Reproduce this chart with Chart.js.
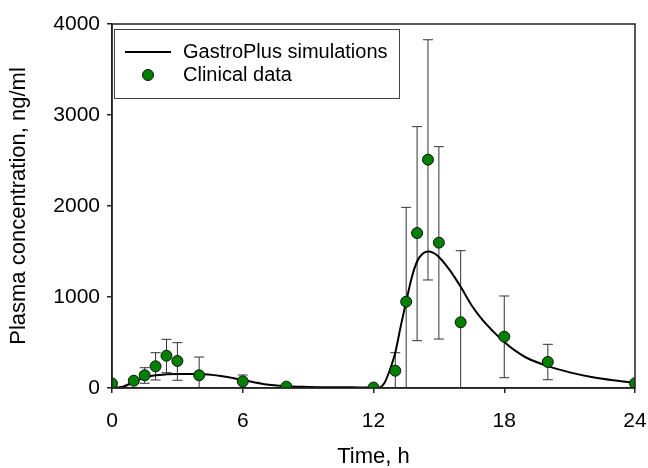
<!DOCTYPE html>
<html>
<head>
<meta charset="utf-8">
<script src="https://cdn.jsdelivr.net/npm/chart.js@4.4.1/dist/chart.umd.min.js"></script>
<style>
  html, body { margin: 0; padding: 0; background: #fff; }
  #wrap { width: 648px; height: 468px; }
</style>
</head>
<body>
<div id="wrap"><canvas id="pkChart"></canvas></div>
<script>
// simulated profile (GastroPlus)
const simTime = [0, 0.5, 1, 1.5, 2, 2.5, 3, 4, 5, 6, 7, 8, 9, 10, 11, 12, 12.25, 12.5, 12.75, 13, 13.25, 13.5, 13.75, 14, 14.25, 14.5, 14.75, 15, 15.5, 16, 16.5, 17, 17.5, 18, 18.5, 19, 20, 21, 22, 23, 24];
const simConc = [0, 15, 65, 115, 140, 150, 154, 154, 132, 88, 42, 20, 12, 9, 7, 5, 4, 55, 198, 390, 680, 950, 1210, 1390, 1475, 1500, 1485, 1440, 1295, 1112, 910, 748, 620, 505, 410, 335, 240, 172, 122, 86, 58];

// clinical observations, mean with error bar ends
const obsTime  = [0, 1, 1.5, 2, 2.5, 3, 4, 6, 8, 12, 13, 13.5, 14, 14.5, 15, 16, 18, 20, 24];
const obsMean  = [50, 80, 140, 238, 355, 297, 140, 73, 15, 5, 190, 948, 1703, 2509, 1597, 722, 564, 286, 52];
const obsUpper = [null, null, 223, 388, 535, 498, 340, 143, null, null, 388, 1985, 2872, 3827, 2652, 1509, 1011, 480, null];
const obsLower = [null, null, 52, 88, 168, 85, 0, 0, null, null, 0, 0, 520, 1187, 538, 0, 113, 91, null];

const xTicks = [0, 6, 12, 18, 24];
const yTicks = [0, 1000, 2000, 3000, 4000];

const FONT = "'Liberation Sans', Arial, sans-serif";

const errorBars = {
  id: 'errorBars',
  beforeDatasetsDraw(chart) {
    const ctx = chart.ctx;
    const xs = chart.scales.x, ys = chart.scales.y;
    ctx.save();
    ctx.strokeStyle = '#333';
    ctx.lineWidth = 1;
    for (let i = 0; i < obsTime.length; i++) {
      if (obsUpper[i] === null) continue;
      const px = xs.getPixelForValue(obsTime[i]);
      const top = ys.getPixelForValue(obsUpper[i]);
      const bot = ys.getPixelForValue(obsLower[i]);
      ctx.beginPath();
      ctx.moveTo(px, top); ctx.lineTo(px, bot);
      ctx.moveTo(px - 5, top); ctx.lineTo(px + 5, top);
      if (obsLower[i] > 0) { ctx.moveTo(px - 5, bot); ctx.lineTo(px + 5, bot); }
      ctx.stroke();
    }
    ctx.restore();
  }
};

const frameAndLegend = {
  id: 'frameAndLegend',
  afterDraw(chart) {
    const ctx = chart.ctx;
    const a = chart.chartArea;
    ctx.save();
    ctx.strokeStyle = '#222';
    ctx.lineWidth = 1.5;
    ctx.strokeRect(a.left, a.top, a.right - a.left, a.bottom - a.top);

    // legend box
    const lx = a.left + 2, ly = a.top + 5;
    ctx.lineWidth = 1;
    ctx.strokeStyle = '#444';
    ctx.fillStyle = '#fff';
    ctx.fillRect(lx, ly, 285, 69);
    ctx.strokeRect(lx + 0.5, ly + 0.5, 285, 69);

    const ds = chart.data.datasets;
    ctx.strokeStyle = '#000';
    ctx.lineWidth = 2;
    ctx.beginPath();
    ctx.moveTo(lx + 11, ly + 23); ctx.lineTo(lx + 57, ly + 23);
    ctx.stroke();
    ctx.beginPath();
    ctx.arc(lx + 34, ly + 46, 5.5, 0, Math.PI * 2);
    ctx.fillStyle = '#008000';
    ctx.fill();
    ctx.lineWidth = 1;
    ctx.strokeStyle = '#111';
    ctx.stroke();

    ctx.fillStyle = '#000';
    ctx.font = '20px ' + FONT;
    ctx.textBaseline = 'middle';
    ctx.fillText(ds[1].label, lx + 69, ly + 23);
    ctx.fillText(ds[0].label, lx + 69, ly + 46);
    ctx.restore();
  }
};

new Chart(document.getElementById('pkChart').getContext('2d'), {
  type: 'scatter',
  data: {
    datasets: [
      {
        label: 'Clinical data',
        data: obsTime.map((t, i) => ({ x: t, y: obsMean[i] })),
        pointRadius: 5.5,
        pointBackgroundColor: '#008000',
        pointBorderColor: '#111',
        pointBorderWidth: 1,
        showLine: false,
        order: 0
      },
      {
        type: 'line',
        label: 'GastroPlus simulations',
        data: simTime.map((t, i) => ({ x: t, y: simConc[i] })),
        borderColor: '#000',
        borderWidth: 2,
        pointRadius: 0,
        fill: false,
        cubicInterpolationMode: 'monotone',
        order: 1
      }
    ]
  },
  options: {
    responsive: true,
    maintainAspectRatio: false,
    animation: false,
    layout: { padding: { left: 0, top: 24, right: 13, bottom: 0 } },
    plugins: {
      legend: { display: false },
      tooltip: { enabled: false }
    },
    scales: {
      x: {
        type: 'linear',
        min: 0,
        max: 24,
        afterBuildTicks: scale => { scale.ticks = xTicks.map(v => ({ value: v })); },
        afterFit: scale => { scale.height = 80; scale.paddingLeft = 0; scale.paddingRight = 0; },
        grid: { display: true, drawOnChartArea: false, drawTicks: true, tickLength: 5, color: '#222', lineWidth: 1.5 },
        border: { display: true, color: '#222', width: 1.5 },
        ticks: { color: '#000', font: { family: FONT, size: 21 }, padding: 16, maxRotation: 0, callback: v => String(v) },
        title: { display: true, text: 'Time, h', color: '#000', font: { family: FONT, size: 22, lineHeight: 1 }, padding: { top: 0, bottom: 0 } }
      },
      y: {
        min: 0,
        max: 4000,
        afterBuildTicks: scale => { scale.ticks = yTicks.map(v => ({ value: v })); },
        afterFit: scale => { scale.width = 112; scale.paddingTop = 0; scale.paddingBottom = 0; },
        grid: { display: true, drawOnChartArea: false, drawTicks: true, tickLength: 5, color: '#222', lineWidth: 1.5 },
        border: { display: true, color: '#222', width: 1.5 },
        ticks: { color: '#000', font: { family: FONT, size: 21 }, padding: 7, callback: v => String(v) },
        title: { display: true, text: 'Plasma concentration, ng/ml', color: '#000', font: { family: FONT, size: 22 }, padding: { top: 6, bottom: 0 } }
      }
    }
  },
  plugins: [errorBars, frameAndLegend]
});
</script>
</body>
</html>
